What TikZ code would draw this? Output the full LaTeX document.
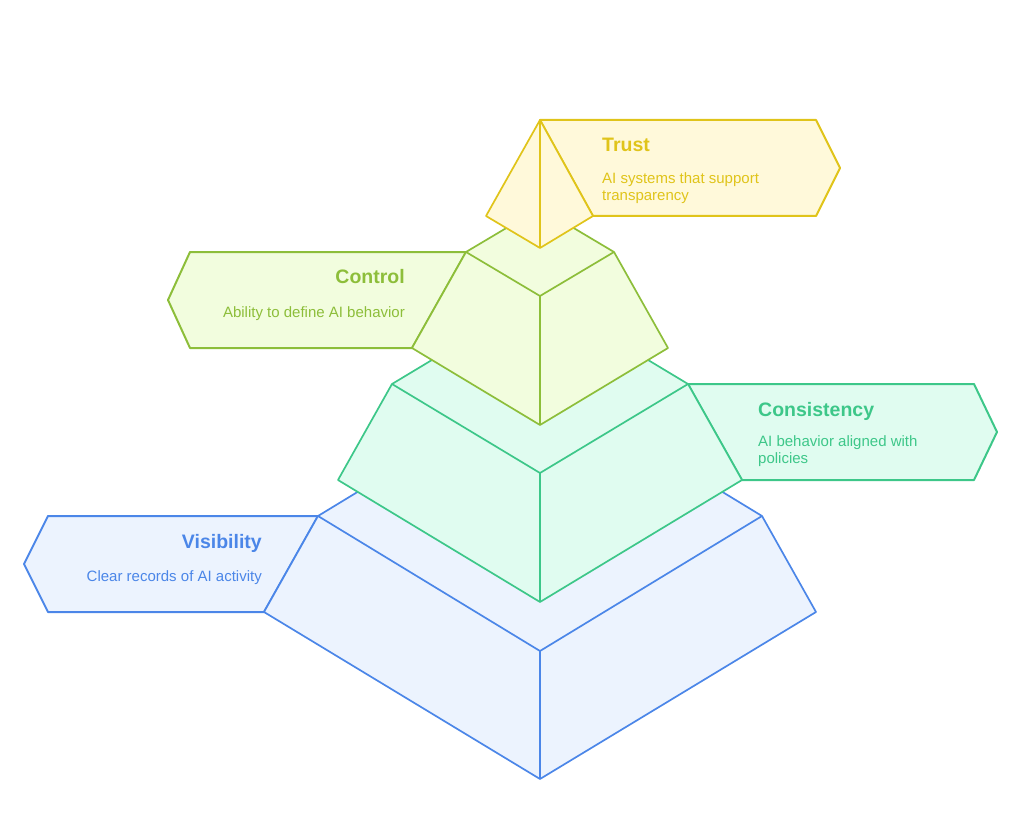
\documentclass[tikz,border=0pt]{standalone}
\usepackage{fontspec}
\setmainfont{Liberation Sans}
\usepackage{tikz}
\definecolor{trustline}{RGB}{224,196,26}
\definecolor{trustfill}{RGB}{255,249,218}
\definecolor{controlline}{RGB}{141,190,58}
\definecolor{controlfill}{RGB}{242,253,222}
\definecolor{consline}{RGB}{61,199,137}
\definecolor{consfill}{RGB}{224,252,240}
\definecolor{visline}{RGB}{75,134,232}
\definecolor{visfill}{RGB}{236,243,254}
\tikzset{
    layer/.style={line width=1.7pt, line join=round},
    labelbox/.style={line width=2pt, line join=round},
    title/.style={font=\fontsize{19.5}{23}\selectfont\bfseries, inner sep=0pt},
    desc/.style={font=\fontsize{15}{17}\selectfont, inner sep=0pt, align=left}}

\begin{document}
\begin{tikzpicture}[x=1pt, y=-1pt]
                    \useasboundingbox (0,0) rectangle (1020,829);

                    % Visibility
                    \filldraw[labelbox, draw=visline, fill=visfill] (318,516) -- (48,516) -- (24,564) -- (48,612) -- (264,612) -- cycle;
                    \filldraw[layer, draw=visline, fill=visfill] (318,516) -- (540,381) -- (762,516) -- (816,612) -- (540,779) -- (264,612) -- cycle;
                    \draw[layer, visline] (318,516) -- (540,651) -- (762,516) (540,651) -- (540,779);
                    \node[title, text=visline, anchor=base east] (vis) at (262,548) {Visibility};
                    \node[desc, text=visline, anchor=base east] (visdesc) at (262,581) {Clear records of AI activity};

                    % Consistency
                    \filldraw[labelbox, draw=consline, fill=consfill] (688,384) -- (974,384) -- (997,432) -- (974,480) -- (742,480) -- cycle;
                    \filldraw[layer, draw=consline, fill=consfill] (392,384) -- (540,295) -- (688,384) -- (742,480) -- (540,602) -- (338,480) -- cycle;
                    \draw[layer, consline] (392,384) -- (540,473) -- (688,384) (540,473) -- (540,602);
                    \node[title, text=consline, anchor=base west] (cons) at (758,416) {Consistency};
                    \node[desc, text=consline, anchor=north west] (consdesc) at (758,435) {AI behavior aligned with\\policies};

                    % Control
                    \filldraw[labelbox, draw=controlline, fill=controlfill] (466,252) -- (190,252) -- (168,300) -- (190,348) -- (412,348) -- cycle;
                    \filldraw[layer, draw=controlline, fill=controlfill] (466,252) -- (540,208) -- (614,252) -- (668,348) -- (540,425) -- (412,348) -- cycle;
                    \draw[layer, controlline] (466,252) -- (540,296) -- (614,252) (540,296) -- (540,425);
                    \node[title, text=controlline, anchor=base east] (control) at (405,283) {Control};
                    \node[desc, text=controlline, anchor=base east] (controldesc) at (405,317) {Ability to define AI behavior};

                    % Trust
                    \filldraw[labelbox, draw=trustline, fill=trustfill] (540,120) -- (816,120) -- (840,168) -- (816,216) -- (593,216) -- cycle;
                    \filldraw[layer, draw=trustline, fill=trustfill] (540,120) -- (593,216) -- (540,248) -- (486,216) -- cycle;
                    \draw[layer, trustline] (540,120) -- (540,248);
                    \node[title, text=trustline, anchor=base west] (trust) at (602,152) {Trust};
                    \node[desc, text=trustline, anchor=north west] (trustdesc) at (602,172) {AI systems that support\\transparency};

                \end{tikzpicture}
\end{document}
